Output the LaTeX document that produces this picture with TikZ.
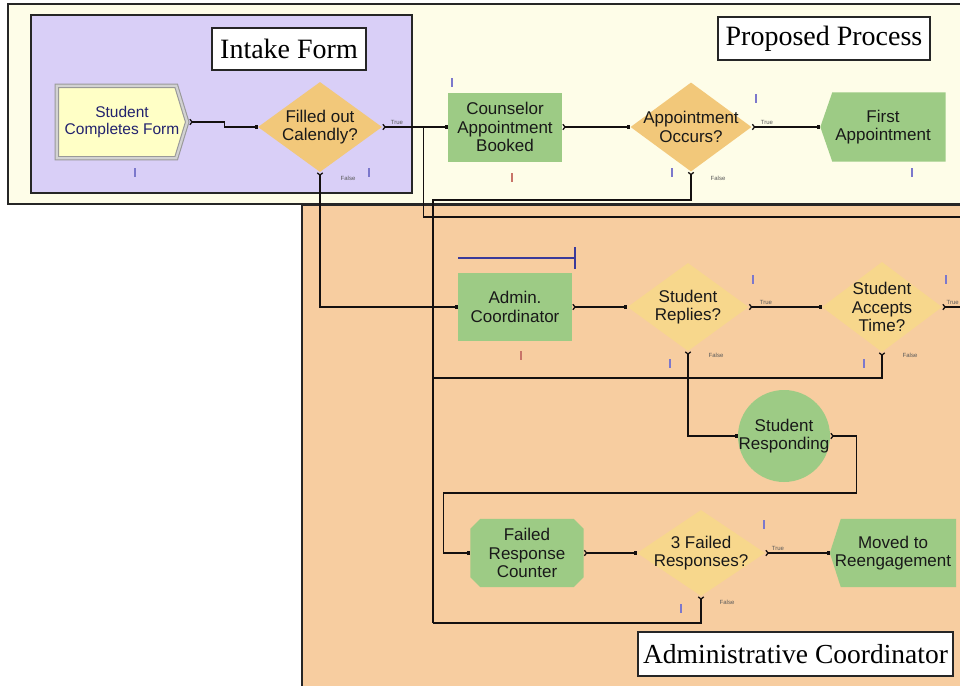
\documentclass[tikz,border=0pt]{standalone}
\usepackage{fontspec}
\setmainfont{Liberation Serif}
\newfontfamily\arialf{Liberation Sans}
\usetikzlibrary{shapes.geometric,arrows.meta}

\definecolor{paleyellow}{HTML}{FEFDE8}
\definecolor{lavender}{HTML}{D9CFF7}
\definecolor{peach}{HTML}{F7CDA0}
\definecolor{nodegreen}{HTML}{9DCB85}
\definecolor{decA}{HTML}{F2C87A}
\definecolor{decB}{HTML}{F7D78C}
\definecolor{formyellow}{HTML}{FFFFC6}
\definecolor{navytext}{HTML}{22226E}
\definecolor{wirecol}{HTML}{141010}
\definecolor{boxline}{HTML}{262626}
\definecolor{tickblue}{HTML}{7C78CC}
\definecolor{tickred}{HTML}{C87468}
\definecolor{barblue}{HTML}{3A3A9A}

\pgfdeclarelayer{boxes}
\pgfdeclarelayer{shapes}
\pgfsetlayers{boxes,shapes,main}

\begin{document}
\begin{tikzpicture}[x=1pt,y=-1pt,
  region/.style={draw=boxline,line width=1.3pt},
  title/.style={draw=boxline,fill=white,line width=1.1pt,inner sep=2pt,
                font=\fontsize{28}{30}\selectfont},
  txt/.style={font=\arialf\fontsize{17}{18.5}\selectfont,align=center,text=black!90},
  blockbox/.style={rectangle,inner sep=0pt,txt},
  dec/.style={diamond,inner sep=0pt},
  tf/.style={font=\arialf\fontsize{6}{7}\selectfont,text=black!65,inner sep=0pt},
  wire/.style={line width=1.3pt,draw=wirecol},
  both/.style={{Straight Barb[reversed,length=2.2pt,width=5.5pt]}-{Square[length=3.2pt,width=3.2pt]}},
  exit/.style={{Straight Barb[reversed,length=2.2pt,width=5.5pt]}-},
  tick/.style={fill=tickblue},
  tickr/.style={fill=tickred}]

\useasboundingbox (0,0) rectangle (960,685);

% swim-lane regions
\begin{pgfonlayer}{boxes}
  \fill[white] (0,0) rectangle (960,685);
  \filldraw[region,fill=paleyellow] (8,4) rectangle (975,204);
  \filldraw[region,fill=lavender] (31,15) rectangle (412,193);
  \filldraw[region,fill=peach] (302,205) rectangle (975,700);
\end{pgfonlayer}

\clip (0,0) rectangle (960,685);

% region titles
\node[title,minimum width=154,minimum height=42] (tIntake) at (289,49) {Intake Form};
\node[title,minimum width=212,minimum height=43] (tProp) at (824,38.5) {Proposed Process};
\node[title,minimum width=315,minimum height=44,font=\fontsize{27.5}{30}\selectfont]
  (tAdmin) at (795.5,654) {Administrative Coordinator};

% blocks
\node[blockbox,minimum width=134,minimum height=76,font=\arialf\fontsize{15.5}{17}\selectfont,text=navytext]
  (form) at (122,122) {Student\\Completes Form};
\node[dec,fill=decA,minimum width=124,minimum height=90,
  label={[txt]center:Filled out\\Calendly?}] (cal) at (320,127) {};
\node[blockbox,fill=nodegreen,minimum width=114,minimum height=69]
  (book) at (505,127) {Counselor\\Appointment\\Booked};
\node[dec,fill=decA,minimum width=121,minimum height=89,
  label={[txt]center:Appointment\\Occurs?}] (appt) at (691,127) {};
\node[blockbox,minimum width=125,minimum height=69] (first) at (883,127) {First\\Appointment};

\node[blockbox,fill=nodegreen,minimum width=114,minimum height=68]
  (admin) at (515,307) {Admin.\\Coordinator};
\node[dec,fill=decB,minimum width=121,minimum height=88,
  label={[txt]center:Student\\Replies?}] (rep) at (688,307) {};
\node[dec,fill=decB,minimum width=120,minimum height=90,
  label={[txt]center:Student\\Accepts\\Time?}] (acc) at (882,307) {};
\node[circle,fill=nodegreen,minimum size=92,inner sep=0pt,
  label={[txt]center:Student\\Responding}] (resp) at (784,436) {};

\node[blockbox,minimum width=113,minimum height=68] (frc) at (527,553) {Failed\\Response\\Counter};
\node[dec,fill=decB,minimum width=128,minimum height=86,
  label={[txt]center:3 Failed\\Responses?}] (fail3) at (701,553) {};
\node[blockbox,minimum width=126,minimum height=68] (move) at (893,553) {Moved to\\Reengagement};

% outlines of the non-rectangular blocks
\begin{pgfonlayer}{shapes}
  \filldraw[fill=formyellow,draw=gray!80,double=gray!35,double distance=2.2pt,line width=1.1pt]
    ([xshift=2pt,yshift=-2pt]form.north west) -- ([xshift=-13pt,yshift=-2pt]form.north east)
    -- ([xshift=-2pt]form.east) -- ([xshift=-13pt,yshift=2pt]form.south east)
    -- ([xshift=2pt,yshift=2pt]form.south west) -- cycle;
  \fill[nodegreen] ([xshift=12pt]first.north west) -- (first.north east) -- (first.south east)
    -- ([xshift=12pt]first.south west) -- (first.west) -- cycle;
  \fill[nodegreen] ([xshift=11pt]move.north west) -- (move.north east) -- (move.south east)
    -- ([xshift=11pt]move.south west) -- (move.west) -- cycle;
  \fill[nodegreen] ([xshift=10pt]frc.north west) -- ([xshift=-10pt]frc.north east)
    -- ([yshift=-10pt]frc.north east) -- ([yshift=10pt]frc.south east)
    -- ([xshift=-10pt]frc.south east) -- ([xshift=10pt]frc.south west)
    -- ([yshift=10pt]frc.south west) -- ([yshift=-10pt]frc.north west) -- cycle;
\end{pgfonlayer}

% bus coordinates for merged connectors
\coordinate (edgeA) at (962,217);
\coordinate (edgeB) at (962,307);
\coordinate (busT) at (433,200);
\coordinate (busM) at (433,378);
\coordinate (busB) at (433,623);

% connectors
\draw[wire,both] (form.east) -- ++(35,0) |- (cal.west);
\draw[wire,both] (cal.east) -- (book.west);
\draw[wire] ([xshift=41pt]cal.east) |- (edgeA);
\draw[wire,both] (book.east) -- (appt.west);
\draw[wire,both] (appt.east) -- (first.west);
\draw[wire,exit] (appt.south) |- (busT) -- (busB);
\draw[wire,both] (cal.south) |- (admin.west);
\draw[wire,both] (admin.east) -- (rep.west);
\draw[wire,both] (rep.east) -- (acc.west);
\draw[wire,exit] (acc.east) -- (edgeB);
\draw[wire,exit] (acc.south) |- (busM);
\draw[wire,both] (rep.south) |- (resp.west);
\draw[wire,both] (resp.east) -- ++(26,0) -- ++(0,57) -| ([xshift=-27pt]frc.west) -- (frc.west);
\draw[wire,both] (frc.east) -- (fail3.west);
\draw[wire,both] (fail3.east) -- (move.west);
\draw[wire,exit] (fail3.south) |- (busB);

% branch labels
\node[tf] (calTrue) at (397,122) {True};
\node[tf] (calFalse) at (348,178) {False};
\node[tf] (apptTrue) at (767,122) {True};
\node[tf] (apptFalse) at (718,178) {False};
\node[tf] (repTrue) at (766,302) {True};
\node[tf] (repFalse) at (716,355) {False};
\node[tf,anchor=east] (accTrue) at (959,302) {True};
\node[tf] (accFalse) at (910,355) {False};
\node[tf] (failTrue) at (778,548) {True};
\node[tf] (failFalse) at (727,602) {False};

% resource bar above the coordinator block
\draw[barblue,line width=1.2pt] (458,258) -- (575,258);
\draw[barblue,line width=1.2pt] (575,247) -- (575,269);

% small animation markers
\foreach \px/\py in {135/172,369/172,452/82,672/172,756/98,912/172,753/279,670/363,864/363,946/279,764/524,681/608}
  \fill[tick] (\px-1.3,\py-4.5) rectangle (\px+1.3,\py+4.5);
\foreach \px/\py in {512/177,521/355}
  \fill[tickr] (\px-1.3,\py-4.5) rectangle (\px+1.3,\py+4.5);

\end{tikzpicture}
\end{document}
